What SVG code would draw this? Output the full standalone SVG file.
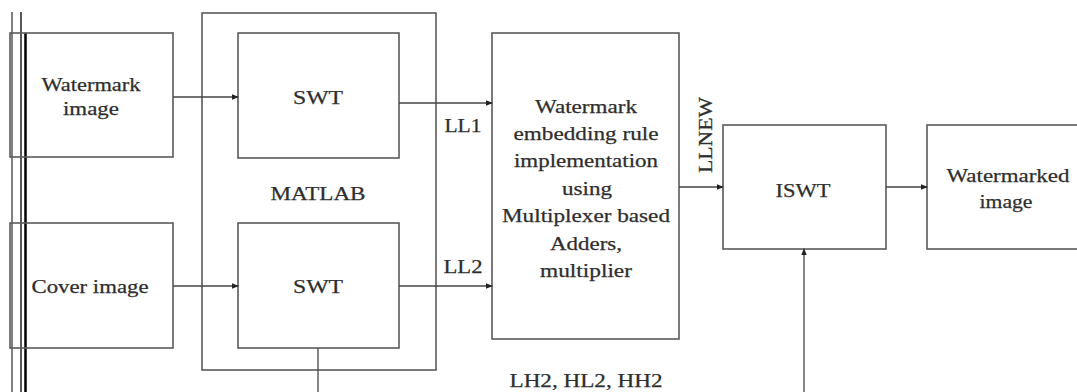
<svg xmlns="http://www.w3.org/2000/svg" width="1077" height="392" viewBox="0 0 1077 392">
<defs>
<style>
.box{fill:none;stroke:#5a5a5a;stroke-width:1.6}
.ln{fill:none;stroke:#444;stroke-width:1.3}
.t{font-family:'Liberation Serif','Times New Roman',serif;font-size:19px;fill:#2e2e2e;stroke:#2e2e2e;stroke-width:0.25;text-anchor:middle}
.art{stroke:#000;fill:none}
</style>
<marker id="ah" viewBox="0 0 8 8" refX="7" refY="4" markerWidth="7" markerHeight="7" markerUnits="userSpaceOnUse" orient="auto">
<path d="M0,0.8 L8,4 L0,7.2 z" fill="#222"/>
</marker>
</defs>
<rect width="1077" height="392" fill="#fff"/>
<g id="artifacts">
<line class="art" x1="12" y1="12" x2="12" y2="392" stroke="#888" stroke-width="1"/>
<line class="art" x1="21" y1="12" x2="21" y2="392" stroke-width="1.3"/>
<line class="art" x1="25.5" y1="33" x2="25.5" y2="392" stroke-width="2.5"/>
</g>
<g id="watermark-image">
<rect class="box" x="10" y="33" width="163" height="124"/>
<text class="t" x="91" y="91" textLength="99" lengthAdjust="spacingAndGlyphs">Watermark</text>
<text class="t" x="91" y="115" textLength="56" lengthAdjust="spacingAndGlyphs">image</text>
</g>
<g id="cover-image">
<rect class="box" x="10" y="223" width="163" height="125"/>
<text class="t" x="90" y="293" textLength="117" lengthAdjust="spacingAndGlyphs">Cover image</text>
</g>
<g id="matlab">
<rect class="box" x="202" y="13" width="234" height="357"/>
<text class="t" x="318" y="200" textLength="95" lengthAdjust="spacingAndGlyphs">MATLAB</text>
</g>
<g id="swt1">
<rect class="box" x="238" y="33" width="161" height="125"/>
<text class="t" x="318" y="104" textLength="50" lengthAdjust="spacingAndGlyphs">SWT</text>
</g>
<g id="swt2">
<rect class="box" x="238" y="223" width="161" height="125"/>
<text class="t" x="318" y="293" textLength="50" lengthAdjust="spacingAndGlyphs">SWT</text>
</g>
<g id="embed">
<rect class="box" x="492" y="33" width="187" height="306"/>
<text class="t" x="586" y="113" textLength="102" lengthAdjust="spacingAndGlyphs">Watermark</text>
<text class="t" x="586" y="140" textLength="145" lengthAdjust="spacingAndGlyphs">embedding rule</text>
<text class="t" x="586" y="167" textLength="144" lengthAdjust="spacingAndGlyphs">implementation</text>
<text class="t" x="587" y="195" textLength="50" lengthAdjust="spacingAndGlyphs">using</text>
<text class="t" x="586" y="222" textLength="168" lengthAdjust="spacingAndGlyphs">Multiplexer based</text>
<text class="t" x="586" y="250" textLength="72" lengthAdjust="spacingAndGlyphs">Adders,</text>
<text class="t" x="586" y="277" textLength="92" lengthAdjust="spacingAndGlyphs">multiplier</text>
</g>
<g id="iswt">
<rect class="box" x="723" y="125" width="163" height="124"/>
<text class="t" x="803" y="197" textLength="55" lengthAdjust="spacingAndGlyphs">ISWT</text>
</g>
<g id="watermarked-image">
<rect class="box" x="927" y="125" width="160" height="124"/>
<text class="t" x="1008" y="182" textLength="123" lengthAdjust="spacingAndGlyphs">Watermarked</text>
<text class="t" x="1006" y="208" textLength="53" lengthAdjust="spacingAndGlyphs">image</text>
</g>
<g id="connectors">
<line class="ln" x1="173" y1="97" x2="238" y2="97" marker-end="url(#ah)"/>
<line class="ln" x1="173" y1="286" x2="238" y2="286" marker-end="url(#ah)"/>
<line class="ln" x1="399" y1="103" x2="492" y2="103" marker-end="url(#ah)"/>
<line class="ln" x1="399" y1="286" x2="492" y2="286" marker-end="url(#ah)"/>
<line class="ln" x1="679" y1="187" x2="723" y2="187" marker-end="url(#ah)"/>
<line class="ln" x1="886" y1="187" x2="927" y2="187" marker-end="url(#ah)"/>
<line class="ln" x1="318" y1="348" x2="318" y2="392"/>
<line class="ln" x1="804" y1="392" x2="804" y2="249" marker-end="url(#ah)"/>
<text class="t" x="463" y="132" textLength="37" lengthAdjust="spacingAndGlyphs">LL1</text>
<text class="t" x="463" y="273" textLength="39" lengthAdjust="spacingAndGlyphs">LL2</text>
<text class="t" transform="translate(712,135) rotate(-90)" x="0" y="0" textLength="76" lengthAdjust="spacingAndGlyphs">LLNEW</text>
<text class="t" x="586" y="387" textLength="153" lengthAdjust="spacingAndGlyphs">LH2, HL2, HH2</text>
</g>
</svg>
